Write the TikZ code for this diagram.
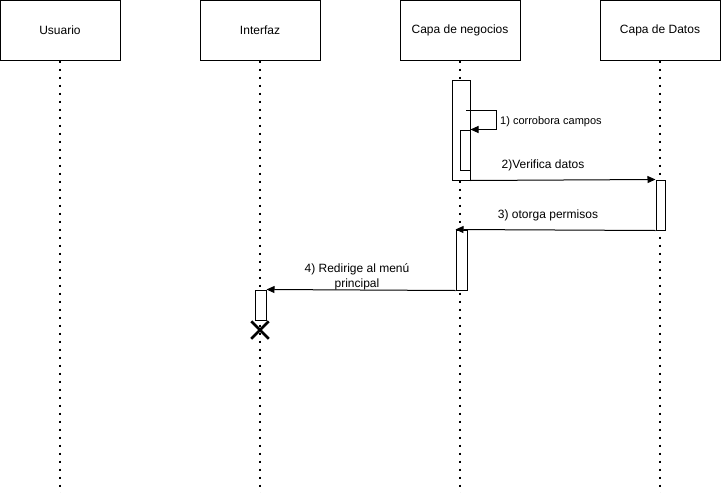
\documentclass[tikz,border=0pt]{standalone}
\usepackage{fontspec}
\setmainfont{Liberation Sans}
\usetikzlibrary{arrows.meta,shapes.misc}

\begin{document}
\begin{tikzpicture}[x=1pt, y=-1pt,
	actor/.style = {draw, line width=1pt, minimum width=120pt, minimum height=60pt, inner sep=0pt, font=\fontsize{12}{14}\selectfont},
	lifeline/.style = {line width=2pt, dash pattern=on 2pt off 6pt},
	act/.style = {draw, line width=1pt, fill=white, inner sep=0pt},
	msg/.style = {line width=1pt, -{Triangle[length=8pt,width=7pt]}},
	lbl/.style = {font=\fontsize{12}{15}\selectfont, inner sep=0pt}]
	\useasboundingbox (0,0) rectangle (721,493);
	\node[actor] (usuario) at (60,30) {Usuario};
	\node[actor] (interfaz) at (260,30) {Interfaz};
	\node[actor] (negocios) at (460,30) {Capa de negocios};
	\node[actor] (datos) at (660,30) {Capa de Datos};
	\coordinate (endU) at (60,493);
	\coordinate (endI) at (260,493);
	\coordinate (endN) at (460,493);
	\coordinate (endD) at (660,493);
	\draw[lifeline] (usuario.south) -- (endU);
	\draw[lifeline] (interfaz.south) -- (endI);
	\draw[lifeline] (negocios.south) -- (endN);
	\draw[lifeline] (datos.south) -- (endD);
	\node[act, minimum width=18pt, minimum height=100pt] (valida) at (461,130) {};
	\node[act, minimum width=10pt, minimum height=40pt] (campos) at (465,150) {};
	\node[act, minimum width=9pt, minimum height=50pt] (consulta) at (660.5,205) {};
	\node[act, minimum width=11pt, minimum height=60pt] (respuesta) at (461.5,260) {};
	\node[act, minimum width=11pt, minimum height=30pt] (menu) at (260.5,305) {};
	\node[cross out, draw, line width=2.5pt, minimum size=15pt, inner sep=0pt] (fin) at (260,330) {};
	\coordinate (self) at (466,110);
	\draw[msg] (self) -- ++(30,0) |- (campos.north east);
	\node[lbl, anchor=west] at (500,122) {\fontsize{11}{13}\selectfont 1) corrobora campos};
	\draw[msg] (valida.south east) -- (consulta.north west);
	\node[lbl] at (543,165.5) {2)Verifica datos};
	\draw[msg] (consulta.south west) -- (respuesta.north west);
	\node[lbl] at (548,215.5) {3) otorga permisos};
	\draw[msg] (respuesta.south west) -- (menu.north east);
	\node[lbl, align=center] at (357,277) {4) Redirige al menú\\principal};
\end{tikzpicture}
\end{document}
